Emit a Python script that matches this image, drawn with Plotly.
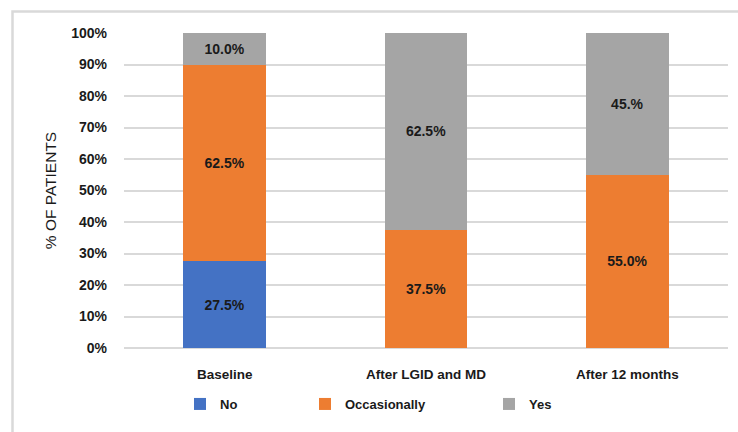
import plotly.graph_objects as go

categories = ["Baseline", "After LGID and MD", "After 12 months"]
no_vals = [27.5, 0.0, 0.0]
occ_vals = [62.5, 37.5, 55.0]
yes_vals = [10.0, 62.5, 45.0]
no_text = ["27.5%", "", ""]
occ_text = ["62.5%", "37.5%", "55.0%"]
yes_text = ["10.0%", "62.5%", "45.%"]
y_ticks = [0, 10, 20, 30, 40, 50, 60, 70, 80, 90, 100]
y_tick_labels = [f"{v}%" for v in y_ticks]

FONT = "Liberation Sans, Arial, sans-serif"
TXT = "#1a1a1a"

# plot area in pixels
W, H = 738, 432
L, R, T, B = 124, 10, 33, 84
PW, PH = W - L - R, H - T - B

def px_x(p):
    return (p - L) / PW

def px_y(p):
    return (H - B - p) / PH

fig = go.Figure()
series = [
    ("No", no_vals, no_text, "#4472C4", "legend"),
    ("Occasionally", occ_vals, occ_text, "#ED7D31", "legend2"),
    ("Yes", yes_vals, yes_text, "#A5A5A5", "legend3"),
]
for name, vals, txt, col, lg in series:
    fig.add_trace(go.Bar(
        x=categories, y=vals, name=name, marker=dict(color=col, line=dict(width=0)),
        text=txt, textposition="inside", insidetextanchor="middle",
        textfont=dict(family=FONT, size=14, color=TXT, weight="bold"),
        constraintext="none", width=0.41, legend=lg,
    ))

leg_common = dict(orientation="h", yanchor="middle", xanchor="left",
                  font=dict(family=FONT, size=13, color=TXT, weight="bold"),
                  bgcolor="rgba(0,0,0,0)", borderwidth=0)
ly = px_y(404)
fig.update_layout(
    width=W, height=H,
    margin=dict(l=L, r=R, t=T, b=B, autoexpand=False),
    barmode="stack",
    bargap=0.59,
    plot_bgcolor="white", paper_bgcolor="white",
    showlegend=True,
    legend=dict(x=px_x(203 - 23), y=ly, **leg_common),
    legend2=dict(x=px_x(328 - 23), y=ly, **leg_common),
    legend3=dict(x=px_x(512 - 23), y=ly, **leg_common),
    xaxis=dict(
        range=[-0.5, 2.5], showgrid=False, zeroline=False, showline=False,
        ticks="", tickfont=dict(family=FONT, size=13.5, color=TXT, weight="bold"),
        ticklabelstandoff=16, fixedrange=True,
    ),
    yaxis=dict(
        range=[0, 100], tickvals=y_ticks, ticktext=y_tick_labels,
        showgrid=True, gridcolor="#d9d9d9", gridwidth=2,
        zeroline=True, zerolinecolor="#d9d9d9", zerolinewidth=2,
        showline=False, ticks="",
        tickfont=dict(family=FONT, size=14, color=TXT, weight="bold"),
        ticklabelstandoff=16,
        title=dict(text="% OF PATIENTS", standoff=10,
                   font=dict(family=FONT, size=15.5, color=TXT)),
        fixedrange=True,
    ),
    shapes=[dict(type="rect", xref="paper", yref="paper",
                 x0=px_x(12.5), x1=px_x(780), y0=px_y(470), y1=px_y(11.5),
                 line=dict(color="#d9d9d9", width=2.5), layer="below")],
)

fig.write_html("out.html")
